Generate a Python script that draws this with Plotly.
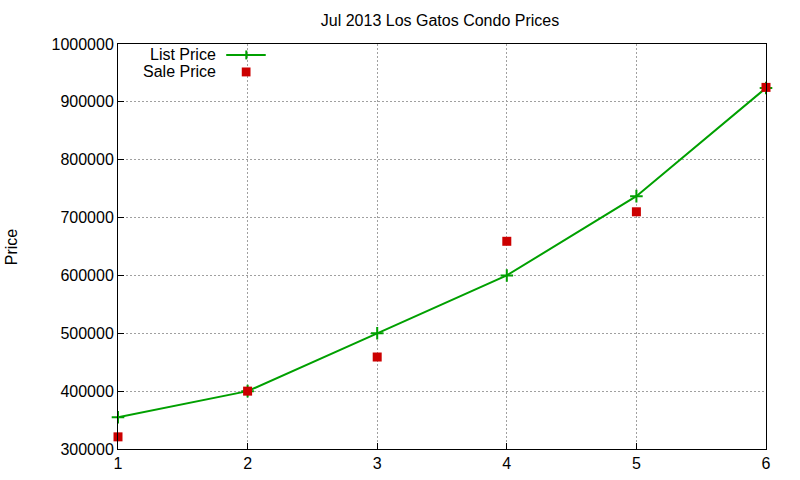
import plotly.graph_objects as go

# values
units = [1, 2, 3, 4, 5, 6]
list_price = [355000, 400000, 500000, 600000, 737000, 924000]
sale_price = [321000, 400000, 459000, 659000, 710000, 925000]

green = '#00a000'
red = '#cc0000'
font = 'Liberation Sans, Arial, sans-serif'

fig = go.Figure()
fig.add_trace(go.Scatter(x=units, y=list_price, mode='lines+markers', name='List Price',
                         line=dict(color=green, width=2), cliponaxis=False,
                         marker=dict(symbol='cross-thin', size=9, line=dict(color=green, width=2))))
fig.add_trace(go.Scatter(x=units, y=sale_price, mode='markers', name='Sale Price',
                         cliponaxis=False,
                         marker=dict(symbol='square', size=9, color=red)))

# gnuplot style legend: text right aligned, sample to the right
fig.add_annotation(x=0.155, y=0.973, xref='paper', yref='paper', text='List Price',
                   showarrow=False, xanchor='right', yanchor='middle', font=dict(size=16))
fig.add_annotation(x=0.155, y=0.931, xref='paper', yref='paper', text='Sale Price',
                   showarrow=False, xanchor='right', yanchor='middle', font=dict(size=16))
fig.add_shape(type='line', xref='paper', yref='paper', x0=0.167, x1=0.228, y0=0.973, y1=0.973,
              line=dict(color=green, width=2))
fig.add_shape(type='line', xref='paper', yref='paper', x0=0.198, x1=0.198, y0=0.962, y1=0.984,
              line=dict(color=green, width=2))
fig.add_shape(type='rect', xref='paper', yref='paper', x0=0.1910, x1=0.2045, y0=0.920, y1=0.942,
              line=dict(width=0), fillcolor=red)

# y axis title as annotation so the margins stay fixed
fig.add_annotation(x=-0.164, y=0.5, xref='paper', yref='paper', text='Price', textangle=-90,
                   showarrow=False, xanchor='center', yanchor='middle', font=dict(size=16))

axis = dict(showline=True, linecolor='black', linewidth=1, mirror=True,
            ticks='inside', ticklen=6, tickcolor='black',
            showgrid=True, gridcolor='#a0a0a0', griddash='2px,2px', gridwidth=1,
            zeroline=False, automargin=False, tickfont=dict(size=16, color='black'))

fig.update_layout(
    width=800, height=480,
    margin=dict(l=118, r=34, t=44, b=31),
    paper_bgcolor='white', plot_bgcolor='white',
    font=dict(family=font, color='black'),
    title=dict(text='Jul 2013 Los Gatos Condo Prices', x=0.55, xanchor='center',
               y=0.958, yanchor='middle', font=dict(size=16)),
    showlegend=False,
    xaxis=dict(axis, range=[1, 6], dtick=1),
    yaxis=dict(axis, range=[300000, 1000000], dtick=100000, tickformat='d'),
)

# drop the default body margin so the figure sits at the top-left corner
fig.write_html('out.html', config={'displayModeBar': False},
               post_script="document.body.style.margin='0';")
